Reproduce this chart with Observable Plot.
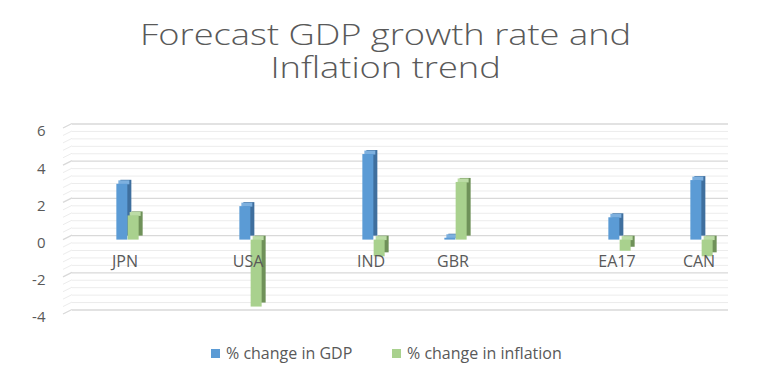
<!DOCTYPE html>
<html>
<head>
<meta charset="utf-8">
<script src="https://cdn.jsdelivr.net/npm/d3@7"></script>
<script src="https://cdn.jsdelivr.net/npm/@observablehq/plot@0.6"></script>
<style>
  body { margin: 0; background: #fff; font-family: "Open Sans", sans-serif; color: #595959; }
  #wrap { position: relative; width: 771px; height: 373px; overflow: hidden; }
  .tl { position: absolute; left: 0; width: 771px; text-align: center;
        font-size: 29px; font-weight: 300; line-height: 29px; height: 29px; color: #595959;
        transform: scaleX(1.25); transform-origin: 385px 0; white-space: nowrap; }
  #chart { position: absolute; left: 0; top: 108px; }
  #legend { position: absolute; top: 342px; left: 0; width: 771px; font-size: 16px; color: #595959; }
  .lg { position: absolute; top: 0; white-space: nowrap; line-height: 22px; }
  .sw { display: inline-block; width: 9px; height: 9px; margin-right: 6px; vertical-align: 1px; }
</style>
</head>
<body>
<div id="wrap">
  <div class="tl" style="top:19px">Forecast GDP growth rate and</div>
  <div class="tl" style="top:52px">Inflation trend</div>
  <div id="chart"></div>
  <div id="legend"></div>
</div>
<script>
// Category slots (blank slots are empty categories in the source chart)
const slots = ["", "JPN", "", "", "USA", "", "", "IND", "", "GBR", "", "", "", "EA17", "", "CAN"];
const gdpChange = [null, 3.0, null, null, 1.8, null, null, 4.6, null, 0.1, null, null, null, 1.2, null, 3.2];
const inflationChange = [null, 1.3, null, null, -3.6, null, null, -0.9, null, 3.1, null, null, null, -0.6, null, -0.9];
const yTicks = [-4, -2, 0, 2, 4, 6];
const seriesNames = ["% change in GDP", "% change in inflation"];

const colors = {
  gdp: {front: "#5B9BD5", side: "#3F6F9E", top: "#7DB0DF"},
  inf: {front: "#A9D18E", side: "#6F9159", top: "#BCDCA6"}
};

const idx = d3.range(slots.length);
const gdpData = idx.filter(i => gdpChange[i] != null).map(i => ({slot: i, v: gdpChange[i]}));
const infData = idx.filter(i => inflationChange[i] != null).map(i => ({slot: i, v: inflationChange[i]}));
const labelData = idx.filter(i => slots[i] !== "").map(i => ({slot: i, label: slots[i]}));

const half = 5.65;   // half of a bar width, bars sit side by side in a slot
const depthX = 4, depthY = -4;
const gridVals = d3.range(-4, 6.001, 0.4).map(v => +v.toFixed(1));
const majorVals = gridVals.filter(v => Math.abs(v % 2) < 1e-9);
const minorVals = gridVals.filter(v => Math.abs(v % 2) >= 1e-9);

function bars3d(data, c, off) {
  return [
    Plot.barY(data, {x: "slot", y: "v", fill: c.side, dx: off + depthX, dy: depthY}),
    Plot.tickY(data, {x: "slot", y: d => Math.max(d.v, 0), stroke: c.top, strokeWidth: 4, dx: off + depthX / 2, dy: depthY / 2}),
    Plot.barY(data, {x: "slot", y: "v", fill: c.front, dx: off})
  ];
}

const sideWall = (index, scales, values, dims) => {
  const g = d3.create("svg:g");
  for (const v of gridVals) {
    const y = scales.y(v);
    const major = majorVals.includes(v);
    g.append("line")
      .attr("x1", dims.marginLeft - 3).attr("y1", y)
      .attr("x2", dims.marginLeft + 6).attr("y2", y - 4.5)
      .attr("stroke", major ? "#d9d9d9" : "#ececec")
      .attr("stroke-width", major ? 1.3 : 1);
  }
  return g.node();
};

const chart = Plot.plot({
  width: 771,
  height: 226,
  marginLeft: 66,
  marginRight: 49,
  marginTop: 20,
  marginBottom: 20,
  style: {fontFamily: "Open Sans, sans-serif", fontSize: "15px", color: "#595959", background: "transparent"},
  x: {domain: idx, paddingInner: 0.724, paddingOuter: 0.362, axis: null},
  y: {domain: [-4, 6], axis: null},
  marks: [
    Plot.ruleY(minorVals, {stroke: "#ececec", strokeWidth: 1, dx: 6, dy: -4.5}),
    Plot.ruleY(majorVals, {stroke: "#d9d9d9", strokeWidth: 1.3, dx: 6, dy: -4.5}),
    sideWall,
    Plot.axisY({ticks: yTicks, label: null, tickSize: 0, tickPadding: 21, tickFormat: d => d < 0 ? "-" + Math.abs(d) : String(d), dy: 3, fill: "#595959", fontSize: 15}),
    ...bars3d(gdpData, colors.gdp, -half),
    ...bars3d(infData, colors.inf, half),
    Plot.text(labelData, {x: "slot", y: () => 0, text: "label", dx: -3, dy: 22, fill: "#595959", fontSize: 16})
  ]
});
document.getElementById("chart").appendChild(chart);

const legend = document.getElementById("legend");
const lg = [
  {name: seriesNames[0], color: colors.gdp.front, left: 211},
  {name: seriesNames[1], color: colors.inf.front, left: 392}
];
for (const item of lg) {
  const d = document.createElement("div");
  d.className = "lg";
  d.style.left = item.left + "px";
  d.innerHTML = `<span class="sw" style="background:${item.color}"></span>${item.name}`;
  legend.appendChild(d);
}
</script>
</body>
</html>
